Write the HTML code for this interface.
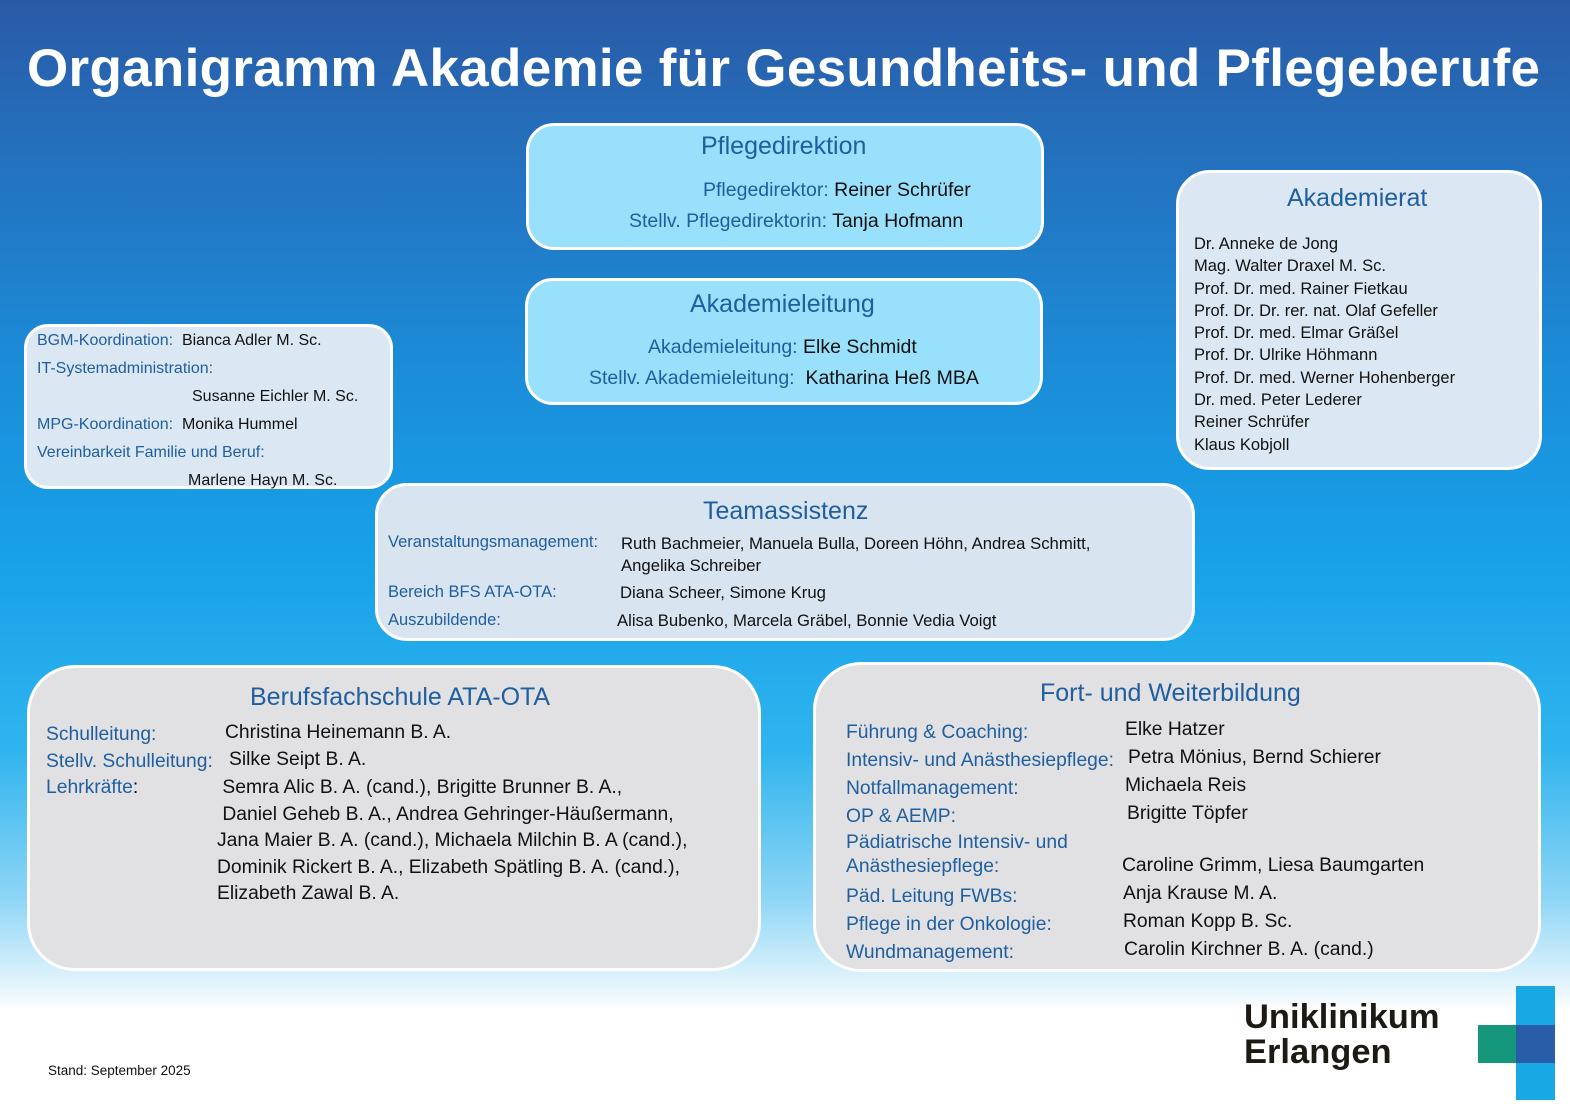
<!DOCTYPE html>
<html><head><meta charset="utf-8"><style>
*{margin:0;padding:0;box-sizing:border-box}
body{width:1570px;height:1110px;position:relative;overflow:hidden;font-family:"Liberation Sans",sans-serif;
background:linear-gradient(180deg,#2a5aa6 0px,#2470bd 150px,#1c8ad6 350px,#17a0e8 550px,#2fb4ee 750px,#8fd6f6 900px,#e8f6fd 990px,#fff 1010px,#fff 1110px)}
.t{position:absolute;white-space:nowrap}
.box{position:absolute;border:3px solid #fff;border-radius:30px}
.h{color:#1f5fa0;font-size:25px;position:absolute;white-space:nowrap}
.b{color:#1f5fa0}
.k{color:#111}
</style></head><body>
<div class="t" style="left:27px;top:38px;font-size:53px;font-weight:bold;color:#fff;letter-spacing:0.3px">Organigramm Akademie für Gesundheits- und Pflegeberufe</div>

<div class="box" style="left:526px;top:123px;width:518px;height:127px;background:#98e0fb;border-radius:28px"></div>
<div class="h" style="left:701px;top:132px">Pflegedirektion</div>
<div class="t" style="left:703px;top:179px;font-size:19.5px"><span class="b">Pflegedirektor:</span> <span class="k">Reiner Schrüfer</span></div>
<div class="t" style="left:629px;top:210px;font-size:19.5px"><span class="b">Stellv. Pflegedirektorin:</span> <span class="k">Tanja Hofmann</span></div>

<div class="box" style="left:525px;top:278px;width:518px;height:127px;background:#98e0fb;border-radius:28px"></div>
<div class="h" style="left:690px;top:290px">Akademieleitung</div>
<div class="t" style="left:648px;top:336px;font-size:19.5px"><span class="b">Akademieleitung:</span> <span class="k">Elke Schmidt</span></div>
<div class="t" style="left:589px;top:367px;font-size:19.5px"><span class="b">Stellv. Akademieleitung:</span> &nbsp;<span class="k">Katharina Heß MBA</span></div>

<div class="box" style="left:1176px;top:170px;width:366px;height:300px;background:#dbe7f2;border-radius:34px"></div>
<div class="h" style="left:1287px;top:184px">Akademierat</div>
<div class="t k" style="left:1194px;top:233px;font-size:16.5px;line-height:22.3px">Dr. Anneke de Jong<br>Mag. Walter Draxel M. Sc.<br>Prof. Dr. med. Rainer Fietkau<br>Prof. Dr. Dr. rer. nat. Olaf Gefeller<br>Prof. Dr. med. Elmar Gräßel<br>Prof. Dr. Ulrike Höhmann<br>Prof. Dr. med. Werner Hohenberger<br>Dr. med. Peter Lederer<br>Reiner Schrüfer<br>Klaus Kobjoll</div>

<div class="box" style="left:24px;top:324px;width:369px;height:165px;background:#dbe7f2;border-radius:24px"></div>
<div class="t" style="left:37px;top:327px;font-size:16px;line-height:28px"><span class="b">BGM-Koordination:</span> &nbsp;<span class="k">Bianca Adler M. Sc.</span><br><span class="b">IT-Systemadministration:</span><br><span class="k" style="padding-left:155px">Susanne Eichler M. Sc.</span><br><span class="b">MPG-Koordination:</span> &nbsp;<span class="k">Monika Hummel</span><br><span class="b">Vereinbarkeit Familie und Beruf:</span><br><span class="k" style="padding-left:151px">Marlene Hayn M. Sc.</span></div>

<div class="box" style="left:375px;top:483px;width:820px;height:158px;background:#d8e4f0;border-radius:32px"></div>
<div class="h" style="left:703px;top:497px">Teamassistenz</div>
<div class="t b" style="left:388px;top:533px;font-size:16.5px">Veranstaltungsmanagement:</div>
<div class="t k" style="left:621px;top:533px;font-size:16.7px;line-height:22px">Ruth Bachmeier, Manuela Bulla, Doreen Höhn, Andrea Schmitt,<br>Angelika Schreiber</div>
<div class="t b" style="left:388px;top:583px;font-size:16.5px">Bereich BFS ATA-OTA:</div>
<div class="t k" style="left:620px;top:583px;font-size:16.7px">Diana Scheer, Simone Krug</div>
<div class="t b" style="left:388px;top:611px;font-size:16.5px">Auszubildende:</div>
<div class="t k" style="left:617px;top:611px;font-size:16.7px">Alisa Bubenko, Marcela Gräbel, Bonnie Vedia Voigt</div>

<div class="box" style="left:27px;top:665px;width:734px;height:306px;background:#e1e1e3;border-radius:48px"></div>
<div class="h" style="left:250px;top:683px">Berufsfachschule ATA-OTA</div>
<div class="t" style="left:46px;top:722px;font-size:19.3px;line-height:26.6px"><span class="b">Schulleitung:</span><br><span class="b">Stellv. Schulleitung:</span><br><span class="b">Lehrkräfte</span>:</div>
<div class="t k" style="left:225px;top:722px;font-size:19.3px">Christina Heinemann B. A.</div>
<div class="t k" style="left:229px;top:749px;font-size:19.3px">Silke Seipt B. A.</div>
<div class="t k" style="left:217px;top:775px;font-size:19.3px;line-height:26.6px">&nbsp;Semra Alic B. A. (cand.), Brigitte Brunner B. A.,<br>&nbsp;Daniel Geheb B. A., Andrea Gehringer-Häußermann,<br>Jana Maier B. A. (cand.), Michaela Milchin B. A (cand.),<br>Dominik Rickert B. A., Elizabeth Spätling B. A. (cand.),<br>Elizabeth Zawal B. A.</div>

<div class="box" style="left:813px;top:662px;width:728px;height:310px;background:#e1e1e3;border-radius:48px"></div>
<div class="h" style="left:1040px;top:679px">Fort- und Weiterbildung</div>
<div class="t b" style="left:846px;top:719px;font-size:19.3px;line-height:28px">Führung &amp; Coaching:<br>Intensiv- und Anästhesiepflege:<br>Notfallmanagement:<br>OP &amp; AEMP:</div>
<div class="t b" style="left:846px;top:831px;font-size:19.3px;line-height:24px">Pädiatrische Intensiv- und<br>Anästhesiepflege:</div>
<div class="t b" style="left:846px;top:883px;font-size:19.3px;line-height:28px">Päd. Leitung FWBs:<br>Pflege in der Onkologie:<br>Wundmanagement:</div>
<div class="t k" style="left:1125px;top:719px;font-size:19.3px">Elke Hatzer</div>
<div class="t k" style="left:1128px;top:747px;font-size:19.3px">Petra Mönius, Bernd Schierer</div>
<div class="t k" style="left:1125px;top:775px;font-size:19.3px">Michaela Reis</div>
<div class="t k" style="left:1127px;top:803px;font-size:19.3px">Brigitte Töpfer</div>
<div class="t k" style="left:1122px;top:855px;font-size:19.3px">Caroline Grimm, Liesa Baumgarten</div>
<div class="t k" style="left:1123px;top:883px;font-size:19.3px">Anja Krause M. A.</div>
<div class="t k" style="left:1123px;top:911px;font-size:19.3px">Roman Kopp B. Sc.</div>
<div class="t k" style="left:1124px;top:939px;font-size:19.3px">Carolin Kirchner B. A. (cand.)</div>

<div class="t" style="left:48px;top:1063px;font-size:13.5px;color:#111">Stand: September 2025</div>

<div class="t" style="left:1244px;top:1000px;font-size:34.5px;font-weight:bold;color:#1d1a14;line-height:35px">Uniklinikum<br>Erlangen</div>
<div style="position:absolute;left:1516px;top:986px;width:39px;height:114px;background:#18a8e4"></div>
<div style="position:absolute;left:1478px;top:1025px;width:39px;height:38px;background:#14977a"></div>
<div style="position:absolute;left:1516px;top:1025px;width:39px;height:38px;background:#2a5da8"></div>
</body></html>
